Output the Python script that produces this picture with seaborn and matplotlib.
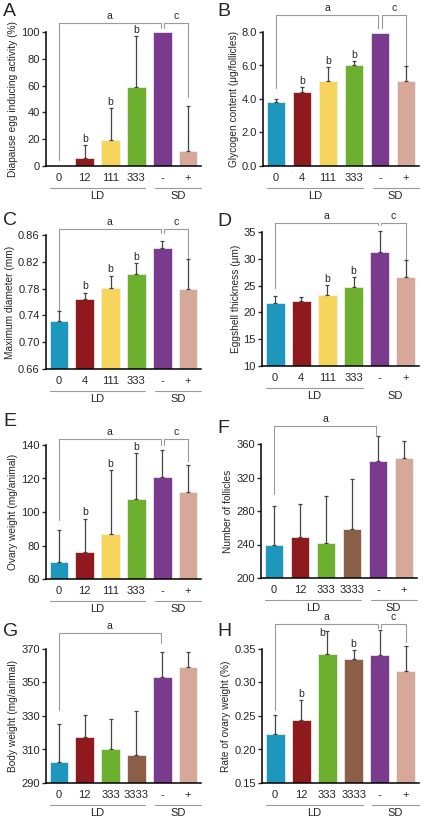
import numpy as np
import pandas as pd
import matplotlib
matplotlib.use("Agg")
import matplotlib.pyplot as plt
import seaborn as sns

# colours of the treatment groups
TEAL = "#1E97BC"
DRED = "#8F1A1E"
YELL = "#F6D55C"
GREEN = "#6DAF2E"
BROWN = "#8A5E47"
PURP = "#7A3B8E"
BEIGE = "#D5A899"

cats_a = ["0", "12", "111", "333", "-", "+"]
cats_b = ["0", "4", "111", "333", "-", "+"]
cats_f = ["0", "12", "333", "3333", "-", "+"]
cols_ae = [TEAL, DRED, YELL, GREEN, PURP, BEIGE]
cols_fh = [TEAL, DRED, GREEN, BROWN, PURP, BEIGE]

mean_a = [0, 6, 19.5, 59, 100, 11]
err_a = [0, 9.5, 23.5, 38, 0, 34]
mean_b = [3.8, 4.4, 5.08, 6.02, 7.92, 5.08]
err_b = [0.22, 0.32, 0.82, 0.25, 0, 0.87]
mean_c = [0.732, 0.764, 0.781, 0.802, 0.841, 0.780]
err_c = [0.015, 0.010, 0.018, 0.016, 0.010, 0.044]
mean_d = [21.8, 22.1, 23.3, 24.7, 31.2, 26.6]
err_d = [1.3, 0.7, 1.8, 1.9, 3.9, 3.1]
mean_e = [70, 76, 87, 107.5, 121, 112]
err_e = [19, 20, 38, 27.5, 16, 16]
mean_f = [240, 249, 242, 259, 340, 343]
err_f = [46, 39, 56, 59, 30, 21]
mean_g = [302.5, 317.5, 310.5, 307, 353, 359.5]
err_g = [22.5, 13, 18, 26, 15.5, 9]
mean_h = [0.223, 0.244, 0.342, 0.335, 0.341, 0.317]
err_h = [0.029, 0.030, 0.035, 0.013, 0.037, 0.037]

sns.set_style("ticks")
plt.rcParams["font.family"] = ["Liberation Sans", "DejaVu Sans"]

W, H = 425, 821
fig = plt.figure(figsize=(W / 100, H / 100), dpi=100)


def ax_at(x0, y_bottom, x1, h=134):
    return fig.add_axes([x0 / W, 1 - y_bottom / H, (x1 - x0) / W, h / H])


panels = [
    dict(letter="A", box=(46, 166, 201), cats=cats_a, cols=cols_ae, mean=mean_a, err=err_a,
         ylim=(0, 100), step=20, fmt="{:.0f}", ylabel="Diapause egg inducing activity (%)",
         b=[1, 2, 3], top=1.067, a_leg=(0.045, 1.03), c_leg=(1.03, 0.515), sd_line=True),
    dict(letter="B", box=(263, 166, 419), cats=cats_b, cols=cols_ae, mean=mean_b, err=err_b,
         ylim=(0, 8), step=2, fmt="{:.1f}", ylabel="Glycogen content (\u03bcg/follicles)",
         b=[1, 2, 3], top=1.126, a_leg=(0.585, 1.03), c_leg=(1.03, 0.756), sd_line=True),
    dict(letter="C", box=(46, 369, 201), cats=cats_b, cols=cols_ae, mean=mean_c, err=err_c,
         ylim=(0.66, 0.86), step=0.04, fmt="{:.2f}", ylabel="Maximum diameter (mm)",
         b=[1, 2, 3], top=1.044, a_leg=(0.43, 1.015), c_leg=(1.015, 0.807), sd_line=True),
    dict(letter="D", box=(262, 366, 419), cats=cats_b, cols=cols_ae, mean=mean_d, err=err_d,
         ylim=(10, 35), step=5, fmt="{:.0f}", ylabel="Eggshell thickness (\u03bcm)",
         b=[2, 3], top=1.067, a_leg=(0.585, 1.05), c_leg=(1.05, 0.79), sd_line=False),
    dict(letter="E", box=(46, 579, 201), cats=cats_a, cols=cols_ae, mean=mean_e, err=err_e,
         ylim=(60, 140), step=20, fmt="{:.0f}", ylabel="Ovary weight (mg/animal)",
         b=[1, 2, 3], top=1.044, a_leg=(0.444, 1.0), c_leg=(1.0, 0.88), sd_line=True),
    dict(letter="F", box=(261, 578, 417), cats=cats_f, cols=cols_fh, mean=mean_f, err=err_f,
         ylim=(200, 360), step=40, fmt="{:.0f}", ylabel="Number of follicles",
         b=[], top=1.133, a_leg=(0.63, 1.067), c_leg=None, sd_line=True),
    dict(letter="G", box=(46, 783, 201), cats=cats_f, cols=cols_fh, mean=mean_g, err=err_g,
         ylim=(290, 370), step=20, fmt="{:.0f}", ylabel="Body weight (mg/animal)",
         b=[], top=1.12, a_leg=(0.545, 1.045), c_leg=None, sd_line=True),
    dict(letter="H", box=(262, 783, 419), cats=cats_f, cols=cols_fh, mean=mean_h, err=err_h,
         ylim=(0.15, 0.35), step=0.05, fmt="{:.2f}", ylabel="Rate of ovary weight (%)",
         b=[1, 3], top=1.19, a_leg=(0.545, 1.157), c_leg=(1.157, 1.05), sd_line=True,
         b_side=(2, 1.78, 1.12)),
]

letter_pos = {"A": (3, 3), "B": (217, 3), "C": (3, 212), "D": (217, 213),
              "E": (3, 413), "F": (217, 420), "G": (3, 623), "H": (217, 623)}

GRAY = "#9A9A9A"

for p in panels:
    x0, yb, x1 = p["box"]
    ax = ax_at(x0, yb, x1)
    df = pd.DataFrame({"group": p["cats"], "value": p["mean"]})
    sns.barplot(data=df, x="group", y="value", hue="group", order=p["cats"],
                palette=dict(zip(p["cats"], p["cols"])), legend=False, saturation=1,
                width=0.72, edgecolor="#f4f4f4", linewidth=0.5, errorbar=None, ax=ax)

    mean = np.array(p["mean"], dtype=float)
    err = np.array(p["err"], dtype=float)
    idx = np.where(err > 0)[0]
    lo = np.zeros_like(err[idx])
    eb = ax.errorbar(idx, mean[idx], yerr=[lo, err[idx]], fmt="none", ecolor="#444444",
                     elinewidth=0.9, capsize=1.6, capthick=0.9, zorder=3)
    for art in eb.get_children():
        art.set_clip_on(False)

    y0, y1 = p["ylim"]
    ax.set_ylim(y0, y1)
    ax.set_xlim(-0.5, 5.5)
    ticks = np.arange(y0, y1 + p["step"] / 2, p["step"])
    ax.set_yticks(ticks)
    ax.set_yticklabels([p["fmt"].format(t) for t in ticks], fontsize=8)
    ax.tick_params(axis="x", length=0, labelsize=8, pad=5)
    ax.tick_params(axis="y", length=3, width=1, pad=1.5)
    ax.set_xlabel("")
    ax.set_ylabel(p["ylabel"], fontsize=7.3, labelpad=2)
    sns.despine(ax=ax)
    for s in ("left", "bottom"):
        ax.spines[s].set_linewidth(1.1)
        ax.spines[s].set_color("black")

    tr = ax.get_xaxis_transform()
    tip = mean + err
    # 'b' marks
    for i in p["b"]:
        ax.annotate("b", xy=(i, tip[i]), xytext=(0, 1), textcoords="offset points",
                    ha="center", va="bottom", fontsize=7.5, annotation_clip=False)
    if "b_side" in p:
        _, bx, byf = p["b_side"]
        ax.text(bx, byf, "b", transform=tr, ha="center", va="center", fontsize=7.5)
    # bracket a
    top = p["top"]
    l0, l1 = p["a_leg"]
    ax.plot([0, 0, 3.94, 3.94], [l0, top, top, l1], color=GRAY, lw=0.8,
            transform=tr, clip_on=False)
    ax.text(1.97, top + 0.015, "a", transform=tr, ha="center", va="bottom", fontsize=7.5)
    if p["c_leg"] is not None:
        c0, c1 = p["c_leg"]
        ax.plot([4.06, 4.06, 5, 5], [c0, top, top, c1], color=GRAY, lw=0.8,
                transform=tr, clip_on=False)
        ax.text(4.53, top + 0.015, "c", transform=tr, ha="center", va="bottom", fontsize=7.5)

    # group lines under the tick labels
    ax.plot([-0.35, 3.35], [-0.165, -0.165], color=GRAY, lw=0.8, transform=tr, clip_on=False)
    if p["sd_line"]:
        ax.plot([3.72, 5.5], [-0.165, -0.165], color=GRAY, lw=0.8, transform=tr, clip_on=False)
    ax.text(1.5, -0.185, "LD", transform=tr, ha="center", va="top", fontsize=8)
    ax.text(4.6, -0.185, "SD", transform=tr, ha="center", va="top", fontsize=8)

    lx, ly = letter_pos[p["letter"]]
    fig.text(lx / W, 1 - ly / H, p["letter"], ha="left", va="top", fontsize=14)

fig.savefig("out.png", dpi=100)
